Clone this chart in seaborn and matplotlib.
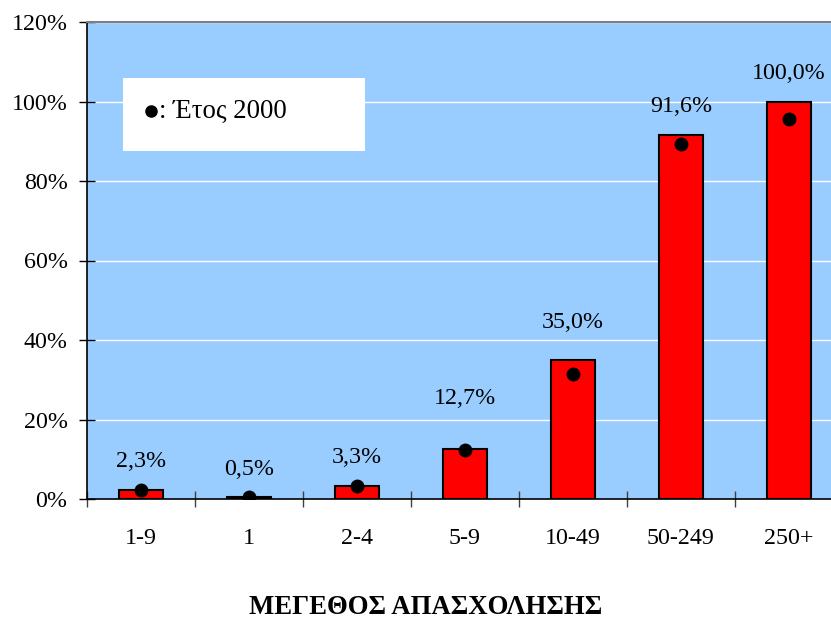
import numpy as np
import pandas as pd
import matplotlib
matplotlib.use("Agg")
import matplotlib.pyplot as plt
import seaborn as sns
from matplotlib.patches import Rectangle

# data
categories = ["1-9", "1", "2-4", "5-9", "10-49", "50-249", "250+"]
current_pct = [2.3, 0.5, 3.3, 12.7, 35.0, 91.6, 100.0]
year2000_pct = [2.3, 0.6, 3.3, 12.3, 31.4, 89.3, 95.5]
y_ticks = [0, 20, 40, 60, 80, 100, 120]

# extra vertical offsets (px) of the value labels above each bar
label_offset = [28, 28, 28, 50, 37, 28, 28]

BG = "#99CCFF"
RED = "#FF0000"


def main():
    sns.set_style("white", {"axes.facecolor": BG})
    plt.rcParams["font.family"] = ["Liberation Serif", "DejaVu Serif"]
    for key in ["text.color", "xtick.color", "ytick.color", "axes.labelcolor"]:
        plt.rcParams[key] = "black"

    df = pd.DataFrame({"size": categories, "pct": current_pct, "pct2000": year2000_pct})
    df["pos"] = np.arange(len(df))

    fig = plt.figure(figsize=(8.31, 6.19), dpi=100)
    ax = fig.add_axes([87 / 831, 120 / 619, 756 / 831, 477 / 619])

    sns.barplot(data=df, x="size", y="pct", order=categories, color=RED,
                width=0.41, edgecolor="black", linewidth=1.5, saturation=1,
                ax=ax, zorder=3)
    sns.scatterplot(x=df["pos"], y=df["pct2000"], color="black", s=100,
                    edgecolor="black", linewidth=0, ax=ax, zorder=4, legend=False)

    # value labels
    for i, (v, off) in enumerate(zip(current_pct, label_offset)):
        txt = f"{v:.1f}".replace(".", ",") + "%"
        ax.annotate(txt, (i, v), xytext=(0, off * 0.72), textcoords="offset points",
                    ha="center", va="center", fontsize=17.3, zorder=5)

    ax.set_xlim(-0.5, len(categories) - 0.5)
    ax.set_ylim(0, 120)
    ax.set_yticks(y_ticks)
    ax.set_yticklabels([f"{t}%" for t in y_ticks], fontsize=17.3)
    ax.yaxis.grid(True, color="white", linewidth=1, zorder=0)
    ax.set_axisbelow(True)
    ax.tick_params(axis="y", direction="inout", length=12, width=1, pad=8, left=True)

    # category labels at centers, tick marks at boundaries
    ax.set_xticks(range(len(categories)))
    ax.set_xticklabels(categories, fontsize=17.3)
    ax.tick_params(axis="x", which="major", length=0, pad=21)
    ax.set_xticks(np.arange(-0.5, len(categories), 1.0), minor=True)
    ax.tick_params(axis="x", which="minor", direction="inout", length=12, width=1,
                   bottom=True, color="#404040")
    ax.set_xlabel("")
    ax.set_ylabel("")

    for side in ["left", "bottom"]:
        ax.spines[side].set_color("black")
        ax.spines[side].set_linewidth(1.2)
    ax.spines["top"].set_color("#808080")
    ax.spines["top"].set_linewidth(1.5)
    ax.spines["right"].set_visible(False)

    # legend box
    ax.add_patch(Rectangle((36 / 756, 348 / 477), 242 / 756, 73 / 477,
                           transform=ax.transAxes, facecolor="white",
                           edgecolor="none", zorder=6))
    ax.plot([64 / 756], [388 / 477], "o", color="black", markersize=8,
            transform=ax.transAxes, zorder=7)
    ax.text(72 / 756, 388 / 477, ": Έτος 2000", transform=ax.transAxes,
            fontsize=19.3, va="center", ha="left", zorder=7)

    fig.text(426 / 831, 12 / 619, "ΜΕΓΕΘΟΣ ΑΠΑΣΧΟΛΗΣΗΣ", ha="center", va="center",
             fontsize=19.3, fontweight="bold")

    fig.savefig("out.png", dpi=100)


if __name__ == "__main__":
    main()
